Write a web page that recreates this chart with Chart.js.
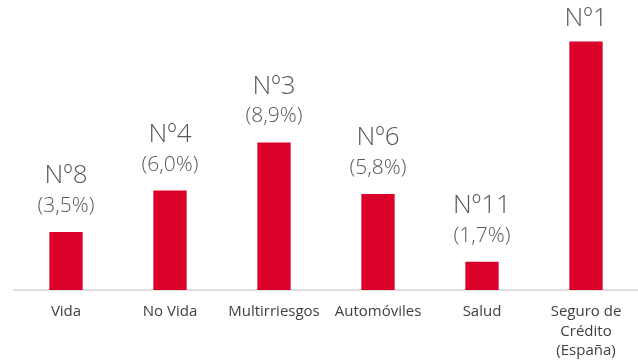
<!DOCTYPE html>
<html>
<head>
<meta charset="utf-8">
<script src="https://cdn.jsdelivr.net/npm/chart.js@4.4.1/dist/chart.umd.min.js"></script>
<style>
  html, body { margin: 0; padding: 0; background: #fff; }
  #wrap { width: 638px; height: 363px; }
</style>
</head>
<body>
<div id="wrap"><canvas id="chart-ranking"></canvas></div>
<script>
// Ranking by line of business, with market share (%)
const categories = ["Vida", "No Vida", "Multirriesgos", "Automóviles", "Salud", ["Seguro de", "Crédito", "(España)"]];
const shares = [3.5, 6.0, 8.9, 5.8, 1.7, 15.0];
const ranks = ["Nº8", "Nº4", "Nº3", "Nº6", "Nº11", "Nº1"];
const shareShown = [true, true, true, true, true, false];

const FONT = "'Open Sans', 'DejaVu Sans', sans-serif";

function fmtShare(v){
  return "(" + v.toFixed(1).replace(".", ",") + "%)";
}

// rank + share written above each bar
const rankLabels = {
  id: "rankLabels",
  afterDatasetsDraw(chart){
    const ctx = chart.ctx;
    const meta = chart.getDatasetMeta(0);
    ctx.save();
    ctx.fillStyle = "#595959";
    ctx.textAlign = "center";
    ctx.textBaseline = "middle";
    meta.data.forEach((bar, i) => {
      let y = bar.y;
      if (shareShown[i]) {
        ctx.font = "300 21px " + FONT;
        ctx.fillText(fmtShare(shares[i]), bar.x, y - 26);
        y -= 33;
      }
      ctx.font = "300 26px " + FONT;
      ctx.fillText(ranks[i], bar.x, y - 23);
    });
    ctx.restore();
  }
};

new Chart(document.getElementById("chart-ranking"), {
  type: "bar",
  data: {
    labels: categories,
    datasets: [{
      data: shares,
      backgroundColor: "#DA0029",
      barPercentage: 0.32,
      categoryPercentage: 1
    }]
  },
  options: {
    responsive: true,
    maintainAspectRatio: false,
    animation: false,
    layout: { padding: { left: 14, right: 0, top: 0, bottom: 0 } },
    plugins: { legend: { display: false }, tooltip: { enabled: false } },
    scales: {
      y: { display: false, min: 0, max: 17.5 },
      x: {
        afterFit(scale){ scale.height = 73; },
        grid: { display: false },
        border: { color: "#dedede", width: 2 },
        ticks: {
          color: "#404040",
          padding: 4,
          autoSkip: false,
          maxRotation: 0,
          font: { family: FONT, size: 15, lineHeight: 1.3 }
        }
      }
    }
  },
  plugins: [rankLabels]
});
</script>
</body>
</html>
